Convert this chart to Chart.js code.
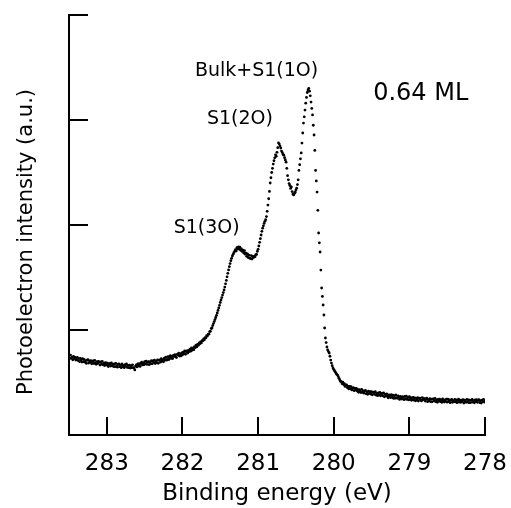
<!DOCTYPE html>
<html>
<head>
<meta charset="utf-8">
<script src="https://cdn.jsdelivr.net/npm/chart.js@4.4.1/dist/chart.umd.min.js"></script>
<style>
  html, body { margin: 0; padding: 0; background: #fff; }
  #wrap { width: 511px; height: 508px; }
</style>
</head>
<body>
<div id="wrap"><canvas id="xps-chart"></canvas></div>
<script>
// SCAN GRID (binding energy, eV) - one point every 0.01 eV
const energyStart = 283.5;
const energyStep = 0.01;

// INTENSITY (a.u.), one row = 0.1 eV
const intensity = [
  0.757, 0.728, 0.761, 0.731, 0.741, 0.716, 0.749, 0.728, 0.739, 0.714, // 283.5
  0.719, 0.740, 0.709, 0.728, 0.699, 0.729, 0.715, 0.695, 0.728, 0.698, // 283.4
  0.720, 0.694, 0.707, 0.682, 0.712, 0.718, 0.685, 0.705, 0.692, 0.709, // 283.3
  0.678, 0.700, 0.706, 0.681, 0.710, 0.686, 0.674, 0.698, 0.680, 0.702, // 283.2
  0.693, 0.666, 0.697, 0.676, 0.701, 0.668, 0.682, 0.662, 0.688, 0.667, // 283.1
  0.686, 0.665, 0.652, 0.681, 0.672, 0.657, 0.687, 0.659, 0.674, 0.652, // 283.0
  0.676, 0.651, 0.683, 0.659, 0.646, 0.672, 0.677, 0.651, 0.665, 0.641, // 282.9
  0.676, 0.651, 0.662, 0.641, 0.670, 0.654, 0.677, 0.644, 0.663, 0.641, // 282.8
  0.665, 0.638, 0.659, 0.641, 0.668, 0.642, 0.638, 0.620, 0.656, 0.667, // 282.7
  0.648, 0.678, 0.659, 0.679, 0.653, 0.680, 0.694, 0.667, 0.685, 0.669, // 282.6
  0.698, 0.678, 0.704, 0.672, 0.692, 0.698, 0.670, 0.696, 0.679, 0.707, // 282.5
  0.678, 0.705, 0.690, 0.714, 0.680, 0.703, 0.690, 0.715, 0.683, 0.711, // 282.4
  0.716, 0.694, 0.726, 0.704, 0.716, 0.697, 0.731, 0.714, 0.741, 0.713, // 282.3
  0.719, 0.746, 0.719, 0.743, 0.756, 0.729, 0.747, 0.728, 0.759, 0.747, // 282.2
  0.766, 0.748, 0.738, 0.768, 0.763, 0.779, 0.752, 0.773, 0.753, 0.782, // 282.1
  0.763, 0.789, 0.775, 0.800, 0.769, 0.794, 0.802, 0.781, 0.806, 0.795, // 282.0
  0.817, 0.798, 0.829, 0.809, 0.827, 0.813, 0.842, 0.833, 0.856, 0.840, // 281.9
  0.863, 0.855, 0.877, 0.869, 0.886, 0.877, 0.898, 0.897, 0.915, 0.907, // 281.8
  0.928, 0.925, 0.946, 0.943, 0.961, 0.960, 0.985, 0.987, 1.014, 1.019, // 281.7
  1.042, 1.061, 1.080, 1.099, 1.119, 1.140, 1.163, 1.186, 1.210, 1.235, // 281.6
  1.262, 1.286, 1.309, 1.333, 1.356, 1.381, 1.409, 1.440, 1.472, 1.506, // 281.5
  1.540, 1.572, 1.603, 1.633, 1.660, 1.683, 1.704, 1.721, 1.736, 1.749, // 281.4
  1.765, 1.752, 1.784, 1.770, 1.791, 1.774, 1.788, 1.759, 1.772, 1.748, // 281.3
  1.760, 1.734, 1.755, 1.722, 1.733, 1.702, 1.724, 1.690, 1.712, 1.684, // 281.2
  1.681, 1.709, 1.676, 1.702, 1.690, 1.700, 1.698, 1.718, 1.720, 1.748, // 281.1
  1.768, 1.800, 1.835, 1.870, 1.905, 1.940, 1.970, 1.992, 2.015, 2.035, // 281.0
  2.050, 2.080, 2.130, 2.190, 2.250, 2.320, 2.400, 2.450, 2.500, 2.540, // 280.9
  2.580, 2.612, 2.640, 2.668, 2.655, 2.692, 2.736, 2.782, 2.771, 2.752, // 280.8
  2.733, 2.704, 2.690, 2.672, 2.665, 2.641, 2.620, 2.598, 2.540, 2.470, // 280.7
  2.430, 2.395, 2.376, 2.348, 2.362, 2.318, 2.295, 2.286, 2.300, 2.312, // 280.6
  2.333, 2.350, 2.385, 2.430, 2.520, 2.575, 2.630, 2.686, 2.780, 2.876, // 280.5
  2.971, 3.030, 3.095, 3.160, 3.215, 3.262, 3.286, 3.300, 3.275, 3.230, // 280.4
  3.171, 3.110, 3.048, 2.950, 2.857, 2.710, 2.520, 2.420, 2.314, 2.140, // 280.3
  1.924, 1.830, 1.743, 1.571, 1.400, 1.320, 1.238, 1.143, 1.019, 0.924, // 280.2
  0.880, 0.838, 0.810, 0.795, 0.781, 0.750, 0.714, 0.685, 0.660, 0.638, // 280.1
  0.625, 0.612, 0.601, 0.590, 0.578, 0.571, 0.556, 0.540, 0.524, 0.510, // 280.0
  0.509, 0.489, 0.503, 0.480, 0.490, 0.463, 0.474, 0.476, 0.451, 0.462, // 279.9
  0.439, 0.462, 0.440, 0.460, 0.429, 0.445, 0.450, 0.422, 0.444, 0.429, // 279.8
  0.445, 0.418, 0.433, 0.407, 0.433, 0.417, 0.404, 0.435, 0.407, 0.419, // 279.7
  0.398, 0.418, 0.424, 0.392, 0.410, 0.387, 0.417, 0.397, 0.412, 0.390, // 279.6
  0.414, 0.383, 0.404, 0.408, 0.387, 0.413, 0.381, 0.396, 0.375, 0.400, // 279.5
  0.382, 0.406, 0.373, 0.391, 0.396, 0.373, 0.401, 0.364, 0.386, 0.372, // 279.4
  0.391, 0.367, 0.355, 0.382, 0.375, 0.357, 0.384, 0.359, 0.379, 0.350, // 279.3
  0.374, 0.349, 0.381, 0.356, 0.349, 0.373, 0.361, 0.339, 0.368, 0.352, // 279.2
  0.342, 0.365, 0.358, 0.336, 0.367, 0.344, 0.370, 0.339, 0.356, 0.335, // 279.1
  0.365, 0.338, 0.355, 0.330, 0.349, 0.359, 0.333, 0.354, 0.326, 0.349, // 279.0
  0.332, 0.356, 0.324, 0.347, 0.352, 0.334, 0.325, 0.356, 0.335, 0.346, // 278.9
  0.347, 0.323, 0.341, 0.351, 0.317, 0.338, 0.325, 0.347, 0.318, 0.341, // 278.8
  0.316, 0.341, 0.345, 0.324, 0.349, 0.318, 0.335, 0.311, 0.339, 0.326, // 278.7
  0.341, 0.317, 0.335, 0.312, 0.344, 0.329, 0.314, 0.335, 0.320, 0.341, // 278.6
  0.313, 0.341, 0.321, 0.335, 0.308, 0.331, 0.338, 0.311, 0.328, 0.316, // 278.5
  0.339, 0.316, 0.335, 0.308, 0.328, 0.341, 0.313, 0.331, 0.311, 0.333, // 278.4
  0.317, 0.336, 0.305, 0.332, 0.325, 0.311, 0.339, 0.314, 0.335, 0.308, // 278.3
  0.333, 0.309, 0.329, 0.340, 0.313, 0.327, 0.307, 0.335, 0.318, 0.337, // 278.2
  0.311, 0.330, 0.337, 0.309, 0.327, 0.305, 0.333, 0.316, 0.338, 0.314, // 278.1
  0.322                                                                 // 278.0
];

// TICKS
const xTicks = [283, 282, 281, 280, 279, 278];
const yTicks = [1, 2, 3, 4];

// PEAK LABELS
const peakNames = ['Bulk+S1(1O)', 'S1(2O)', 'S1(3O)'];
const coverageText = '0.64 ML';

const points = intensity.map((v, i) => ({ x: +(energyStart - i * energyStep).toFixed(2), y: v }));

const FONT = "'DejaVu Sans', sans-serif";

// INWARD TICK MARKS, Y TITLE AND LABELS
const extras = {
  id: 'extras',
  afterDatasetsDraw(chart) {
    const { ctx, chartArea: a, scales: { x, y } } = chart;
    ctx.save();
    ctx.strokeStyle = '#000';
    ctx.lineWidth = 2;
    ctx.beginPath();
    x.ticks.forEach(t => {
      const px = Math.round(x.getPixelForValue(t.value));
      ctx.moveTo(px, a.bottom);
      ctx.lineTo(px, a.bottom - 18);
    });
    y.ticks.forEach(t => {
      const py = Math.round(y.getPixelForValue(t.value));
      ctx.moveTo(a.left, py);
      ctx.lineTo(a.left + 19, py);
    });
    ctx.stroke();

    ctx.fillStyle = '#000';
    ctx.textAlign = 'center';
    ctx.textBaseline = 'middle';

    // labels placed in data coordinates
    const notes = [
      [peakNames[0], 281.02, 3.47, 19],
      [peakNames[1], 281.24, 3.01, 19],
      [peakNames[2], 281.68, 1.97, 19],
      [coverageText, 278.85, 3.25, 24]
    ];
    notes.forEach(([txt, ex, ey, size]) => {
      ctx.font = size + 'px ' + FONT;
      ctx.fillText(txt, x.getPixelForValue(ex), y.getPixelForValue(ey));
    });

    // y axis title
    ctx.font = '21px ' + FONT;
    ctx.translate(27, (a.top + a.bottom) / 2 + 17);
    ctx.rotate(-Math.PI / 2);
    ctx.fillText('Photoelectron intensity (a.u.)', 0, 0);
    ctx.restore();
  }
};

const ctx = document.getElementById('xps-chart').getContext('2d');
new Chart(ctx, {
  type: 'scatter',
  data: {
    datasets: [{
      data: points,
      pointRadius: 1.4,
      pointBorderWidth: 0,
      pointBackgroundColor: '#000',
      pointHoverRadius: 1.4
    }]
  },
  options: {
    responsive: true,
    maintainAspectRatio: false,
    animation: false,
    layout: { padding: { top: 15, right: 26, left: 0, bottom: 0 } },
    plugins: { legend: { display: false }, tooltip: { enabled: false } },
    scales: {
      x: {
        type: 'linear',
        reverse: true,
        min: 278,
        max: 283.5,
        afterBuildTicks: s => { s.ticks = xTicks.map(v => ({ value: v })); },
        afterFit: s => { s.height = 73; s.paddingLeft = 0; s.paddingRight = 0; },
        grid: { display: false, drawTicks: false },
        border: { display: true, color: '#000', width: 2 },
        ticks: {
          padding: 15,
          color: '#000',
          font: { family: FONT, size: 23 },
          maxRotation: 0,
          callback: v => v
        },
        title: {
          display: true,
          text: 'Binding energy (eV)',
          color: '#000',
          font: { family: FONT, size: 23 },
          padding: { top: 0, bottom: 0 }
        }
      },
      y: {
        min: 0,
        max: 4,
        afterBuildTicks: s => { s.ticks = yTicks.map(v => ({ value: v })); },
        afterFit: s => { s.width = 69; s.paddingTop = 0; s.paddingBottom = 0; },
        grid: { display: false, drawTicks: false },
        border: { display: true, color: '#000', width: 2 },
        ticks: { display: false }
      }
    }
  },
  plugins: [extras]
});
</script>
</body>
</html>
